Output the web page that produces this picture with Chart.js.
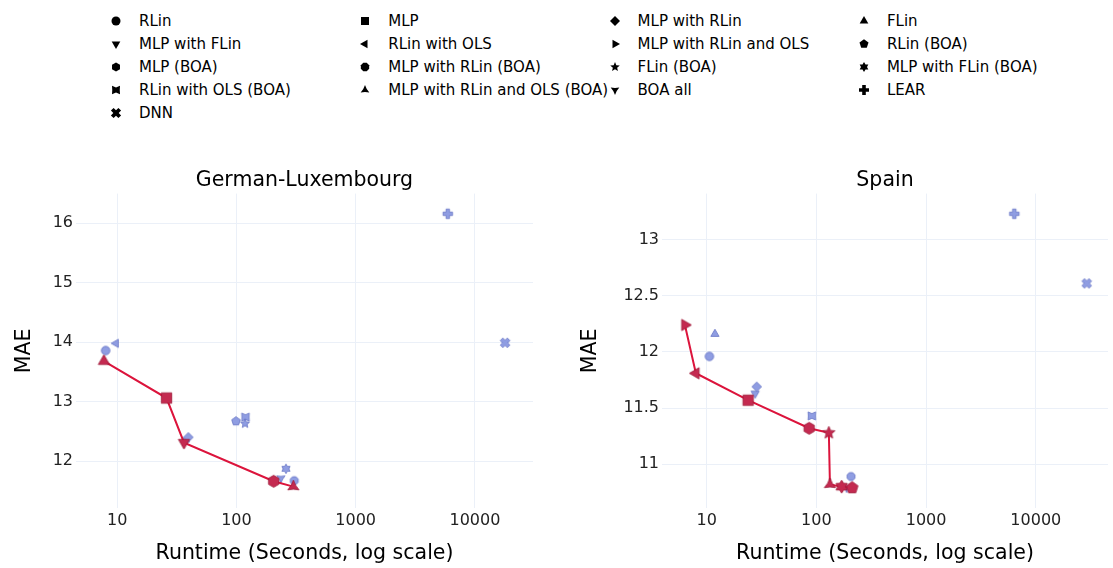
<!doctype html>
<html>
<head>
<meta charset="utf-8">
<script src="https://cdn.jsdelivr.net/npm/chart.js"></script>
<style>
body { margin: 0; background: #fff; font-family: 'DejaVu Sans', sans-serif; }
#wrap { position: relative; width: 1113px; height: 568px; }
.box { position: absolute; top: 160px; height: 408px; }
.item { position: absolute; height: 20px; line-height: 20px; font-size: 15px; color: #000; white-space: nowrap; }
.item canvas { position: absolute; top: 2px; }
.item span { position: absolute; left: 30px; top: 0; }
</style>
</head>
<body>
<div id="wrap">
	<div id="legend"></div>
	<div class="box" style="left:0; width:545px;"><canvas id="deChart"></canvas></div>
	<div class="box" style="left:560px; width:553px;"><canvas id="esChart"></canvas></div>
</div>
<script>
// models, in legend order
const models = ['RLin', 'MLP', 'MLP with RLin', 'FLin', 'MLP with FLin', 'RLin with OLS',
	'MLP with RLin and OLS', 'RLin (BOA)', 'MLP (BOA)', 'MLP with RLin (BOA)', 'FLin (BOA)',
	'MLP with FLin (BOA)', 'RLin with OLS (BOA)', 'MLP with RLin and OLS (BOA)', 'BOA all', 'LEAR', 'DNN'];
const symbols = ['circle', 'square', 'diamond', 'triangle-up', 'triangle-down', 'triangle-left',
	'triangle-right', 'pentagon', 'hexagon', 'octagon', 'star', 'hexagram', 'star-square',
	'star-triangle-up', 'star-triangle-down', 'cross', 'x'];

// German-Luxembourg
const deRuntime = [8.0, 25.9, 39.5, 7.73, 36.3, 9.75, 37, 99, 205, 305, 118, 260, 119, 300, 236, 5920, 17900];
const deMae = [13.86, 13.06, 12.40, 13.68, 12.31, 13.98, 12.33, 12.67, 11.66, 11.67, 12.63, 11.87, 12.74, 11.57, 11.71, 16.16, 13.99];
const deFront = ['FLin', 'MLP', 'MLP with FLin', 'MLP (BOA)', 'MLP with RLin and OLS (BOA)'];

// Spain
const esRuntime = [10.6, 23.9, 28.6, 11.9, 27.7, 7.98, 6.34, 212, 86, 207, 130, 170, 91, 133, 189, 6370, 29100];
const esMae = [11.96, 11.57, 11.69, 12.16, 11.63, 11.81, 12.24, 10.79, 11.32, 10.89, 11.28, 10.80, 11.43, 10.82, 10.79, 13.23, 12.61];
const esFront = ['MLP with RLin and OLS', 'RLin with OLS', 'MLP', 'MLP (BOA)', 'FLin (BOA)',
	'MLP with RLin and OLS (BOA)', 'MLP with FLin (BOA)', 'RLin (BOA)'];

const xTicks = [10, 100, 1000, 10000];
const deYTicks = [12, 13, 14, 15, 16];
const esYTicks = [11, 11.5, 12, 12.5, 13];

const BLUE = '#8f9de2', BLUE_EDGE = '#6674c4';
const RED = '#c42a50', RED_EDGE = '#9c1636';
const LINE = '#dc143c';
const GRID = '#ebf0f8';

function marker(shape, d, fill, stroke) {
	const s = Math.ceil(d + 4);
	const c = document.createElement('canvas');
	c.width = c.height = s;
	const g = c.getContext('2d');
	const r = d / 2, cx = s / 2, cy = s / 2;
	const poly = pts => {
		g.beginPath();
		pts.forEach(([x, y], i) => i ? g.lineTo(cx + x * r, cy + y * r) : g.moveTo(cx + x * r, cy + y * r));
		g.closePath();
	};
	const reg = (n, rot, k) => {
		const p = [];
		for (let i = 0; i < n; i++) p.push([k * Math.cos(rot + i * 2 * Math.PI / n), k * Math.sin(rot + i * 2 * Math.PI / n)]);
		poly(p);
	};
	const star = (n, inner, rot) => {
		const p = [];
		for (let i = 0; i < 2 * n; i++) {
			const a = rot + i * Math.PI / n, k = i % 2 ? inner : 1;
			p.push([k * Math.cos(a), k * Math.sin(a)]);
		}
		poly(p);
	};
	const w = 0.36;
	const plus = [[-w, -1], [w, -1], [w, -w], [1, -w], [1, w], [w, w], [w, 1], [-w, 1], [-w, w], [-1, w], [-1, -w], [-w, -w]];
	const up = -Math.PI / 2;
	switch (shape) {
		case 'circle': g.beginPath(); g.arc(cx, cy, r * 0.9, 0, 2 * Math.PI); break;
		case 'square': poly([[-.8, -.8], [.8, -.8], [.8, .8], [-.8, .8]]); break;
		case 'diamond': reg(4, up, 1); break;
		case 'triangle-up': reg(3, up, 1); break;
		case 'triangle-down': reg(3, -up, 1); break;
		case 'triangle-left': reg(3, Math.PI, 1); break;
		case 'triangle-right': reg(3, 0, 1); break;
		case 'pentagon': reg(5, up, 0.95); break;
		case 'hexagon': reg(6, up, 0.92); break;
		case 'octagon': reg(8, Math.PI / 8, 0.9); break;
		case 'star': star(5, 0.45, up); break;
		case 'hexagram': star(6, 0.6, up); break;
		case 'star-square': poly([[-.8, -.85], [0, -.5], [.8, -.85], [.75, .0], [.8, .85], [0, .5], [-.8, .85], [-.75, 0]]); break;
		case 'star-triangle-up': star(3, 0.4, up); break;
		case 'star-triangle-down': star(3, 0.4, -up); break;
		case 'cross': poly(plus); break;
		case 'x': poly(plus.map(([x, y]) => [(x - y) * 0.75, (x + y) * 0.75])); break;
	}
	g.fillStyle = fill;
	g.fill();
	if (stroke) { g.strokeStyle = stroke; g.lineWidth = 0.8; g.stroke(); }
	return c;
}

// legend, 4 columns
const legend = document.getElementById('legend');
models.forEach((m, i) => {
	const row = Math.floor(i / 4), col = i % 4;
	const div = document.createElement('div');
	div.className = 'item';
	div.style.left = (109 + col * 249.3) + 'px';
	div.style.top = (11 + row * 23) + 'px';
	const mk = marker(symbols[i], 10, '#000', null);
	mk.style.left = (7 - mk.width / 2) + 'px';
	mk.style.top = (10 - mk.height / 2) + 'px';
	div.appendChild(mk);
	const sp = document.createElement('span');
	sp.textContent = m;
	div.appendChild(sp);
	legend.appendChild(div);
});

function makeChart(id, title, runtime, mae, front, xMin, xMax, yMin, yMax, yTicks, yWidth, yTitlePad, pad) {
	const datasets = [];
	models.forEach((m, i) => {
		const isFront = front.includes(m);
		datasets.push({
			label: m,
			data: [{ x: runtime[i], y: mae[i] }],
			pointStyle: isFront ? marker(symbols[i], 13, RED, RED_EDGE) : marker(symbols[i], 9.5, BLUE, BLUE_EDGE),
			order: isFront ? 0 : 2
		});
	});
	const line = front.map(m => ({ x: runtime[models.indexOf(m)], y: mae[models.indexOf(m)] }))
		.sort((a, b) => a.x - b.x);
	datasets.push({
		label: 'front',
		data: line,
		showLine: true,
		borderColor: LINE,
		borderWidth: 2,
		pointRadius: 0,
		order: 1
	});

	return new Chart(document.getElementById(id), {
		type: 'scatter',
		data: { datasets: datasets },
		options: {
			responsive: true,
			maintainAspectRatio: false,
			animation: false,
			layout: { padding: pad },
			plugins: {
				legend: { display: false },
				tooltip: { enabled: false },
				title: {
					display: true,
					fullSize: false,
					text: title,
					color: '#000',
					font: { family: 'DejaVu Sans', size: 20.5, weight: 'normal' },
					padding: { top: 8, bottom: 1 }
				}
			},
			scales: {
				x: {
					type: 'logarithmic',
					min: xMin,
					max: xMax,
					afterBuildTicks: s => { s.ticks = xTicks.map(v => ({ value: v })); },
					afterFit: s => { s.height = 60; },
					ticks: {
						color: '#222',
						padding: 3,
						maxRotation: 0,
						font: { family: 'DejaVu Sans', size: 16 },
						callback: v => String(v)
					},
					grid: { color: GRID, drawTicks: false },
					border: { display: false },
					title: {
						display: true,
						text: 'Runtime (Seconds, log scale)',
						color: '#000',
						font: { family: 'DejaVu Sans', size: 20.5 },
						padding: { top: 0, bottom: 2 }
					}
				},
				y: {
					min: yMin,
					max: yMax,
					afterBuildTicks: s => { s.ticks = yTicks.map(v => ({ value: v })); },
					afterFit: s => { s.width = yWidth; },
					ticks: {
						color: '#222',
						padding: 3,
						font: { family: 'DejaVu Sans', size: 16 },
						callback: v => String(v)
					},
					grid: { color: GRID, drawTicks: false },
					border: { display: false },
					title: {
						display: true,
						text: 'MAE',
						color: '#000',
						font: { family: 'DejaVu Sans', size: 20.5 },
						padding: { top: yTitlePad, bottom: 0 }
					}
				}
			}
		}
	});
}

makeChart('deChart', 'German-Luxembourg', deRuntime, deMae, deFront,
	4.51, 30700, 11.21, 16.5, deYTicks, 76, 12, { left: 0, right: 12, top: 0, bottom: 0 });
makeChart('esChart', 'Spain', esRuntime, esMae, esFront,
	3.92, 45500, 10.61, 13.41, esYTicks, 102, 18, { left: 0, right: 5, top: 0, bottom: 0 });
</script>
</body>
</html>
